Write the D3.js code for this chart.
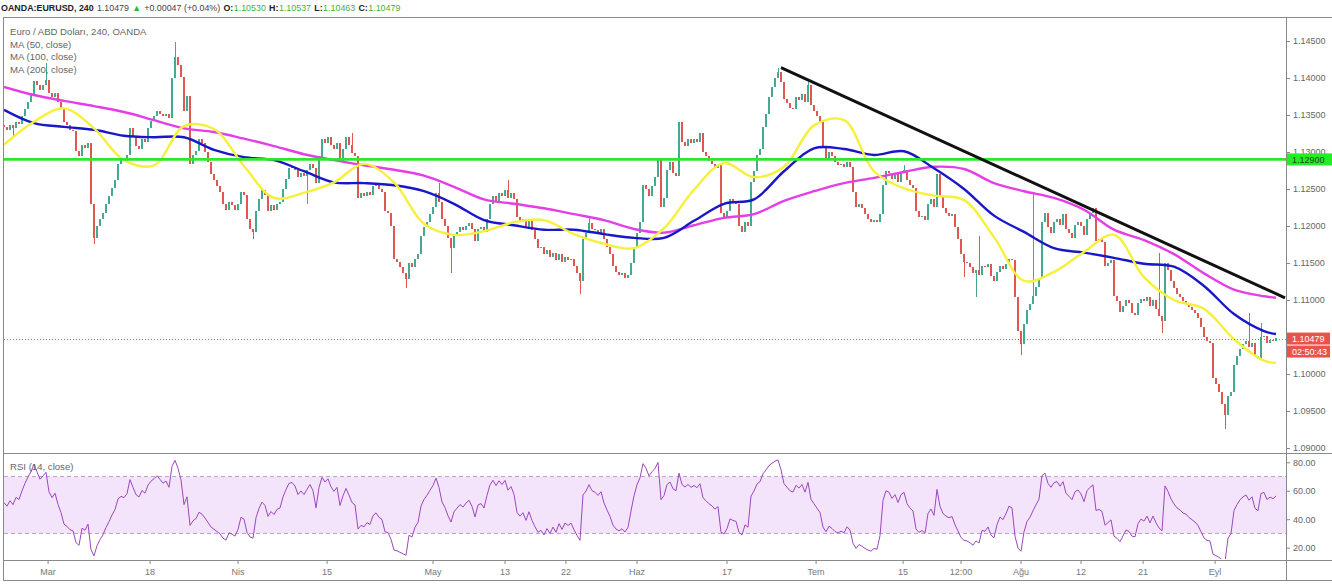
<!DOCTYPE html>
<html><head><meta charset="utf-8">
<script src="https://cdn.jsdelivr.net/npm/d3@7"></script>
<style>body{margin:0;background:#fff;overflow:hidden}svg{display:block;font-family:'Liberation Sans',Arial,sans-serif}</style>
</head><body><svg id="c" width="1332" height="587"></svg>
<script>
// ---- DATA (prices stored as pips above 1.0900) ----
const BASE = 1.09;
const firstOpen = 436;
const closes = [
434,430,436,432,440,438,448,458,468,478,
496,490,484,490,497,480,474,480,468,458,
440,436,430,428,402,394,410,406,412,330,
284,300,310,318,330,340,352,362,384,390,
388,396,432,420,408,404,418,414,432,442,
448,456,452,448,452,446,500,528,518,502,
456,476,384,396,402,418,412,400,386,370,
362,354,346,330,322,332,328,322,330,346,
342,310,296,292,320,336,348,342,320,328,
322,330,332,350,364,378,380,376,366,372,
368,376,384,378,358,392,418,412,420,410,
404,412,386,404,420,410,398,394,338,344,
340,346,342,354,358,350,346,320,318,300,
256,252,244,236,228,250,244,256,262,286,
298,306,316,326,344,332,310,300,284,270,
286,292,298,294,300,304,296,280,296,298,
292,310,330,340,334,344,340,348,338,344,
336,312,306,310,298,308,294,282,270,272,
262,268,258,264,254,262,252,258,254,256,
246,236,226,282,290,304,296,294,290,296,
282,272,262,246,238,234,236,230,234,250,
270,290,306,356,350,340,354,366,392,326,
338,376,386,372,368,440,414,408,418,412,
418,414,426,400,394,388,384,378,382,318,
312,320,336,332,330,300,292,306,300,360,
374,396,404,434,452,474,488,500,508,494,
472,466,460,458,474,470,478,468,490,464,
456,448,440,406,392,400,394,386,382,384,
380,386,380,346,326,330,324,316,310,306,
308,306,316,356,374,372,364,370,360,372,
376,362,356,352,320,312,314,308,330,336,
326,370,340,324,318,314,316,298,282,262,
252,250,244,236,240,234,246,244,248,232,
226,238,246,242,248,256,254,204,158,140,
168,186,194,206,218,230,306,318,298,290,
306,310,302,316,296,290,284,302,306,300,
288,310,318,324,280,282,278,246,250,254,
206,198,184,192,200,196,182,180,196,202,
198,204,192,200,188,178,172,250,240,226,
216,208,204,198,196,190,186,182,176,164,
150,144,142,94,86,76,60,44,70,76,
112,124,134,140,144,136,142,124,120,150,
152,142,146,144,148
];
// notable wicks: [candle, high, low]
const wicks = [[3,null,419],[14,520,null],[30,null,276],[57,548,null],[83,null,283],[101,null,330],[116,426,null],
[134,null,216],[145,358,null],[149,null,236],[168,362,null],[192,null,208],[195,312,null],[258,514,null],[268,494,null],
[300,382,null],[320,null,231],[324,null,204],[325,286,null],[339,null,126],[343,346,null],[385,264,null],[386,null,155],
[407,null,26],[415,182,null],[419,169,null]];
// moving averages sampled every 10th candle (+ last candle)
const ma50 = [410,441,459,432,389,382,435,431,381,338,345,359,384,359,303,288,293,305,308,289,276,270,297,349,385,366,380,436,443,374,351,341,335,285,226,238,265,288,231,200,188,147,118,115];
const ma100 = [457,439,434,430,422,420,420,403,393,389,374,359,358,355,347,330,308,301,295,295,289,284,284,307,330,336,374,405,404,396,401,378,350,314,292,270,264,257,249,245,219,181,158,154];
const ma200 = [488,477,469,462,454,443,432,427,418,408,397,389,382,376,368,353,336,330,324,316,308,296,291,301,311,316,334,347,358,365,373,380,377,358,347,338,322,295,281,262,236,214,205,203];
const trend = [[259,514],[427,203]];
const levelPrice = 1.129;
const lastPrice = 1.10479;
const countdown = "02:50:43";
const priceTicks = [1.09,1.095,1.10,1.105,1.11,1.115,1.12,1.125,1.13,1.135,1.14,1.145];
const rsiTicks = [20,40,60,80];
const timeLabels = ["Mar","18","Nis","15","May","13","22","Haz","17","Tem","15","12:00","Ağu","12","21","Eyl"];
const timeIdx = [14.7,48.7,78,107.7,143,167,187.3,211,241,270.7,299.7,319,339,359,379.7,403.7];
const headerParts = [["OANDA:EURUSD, 240",'b','#222'],["1.10479",'n','#444'],["▲",'n','#2eb82e'],["+0.00047 (+0.04%)",'n','#444'],
["O:",'b','#222'],["1.10530",'n','#3cb43c'],["H:",'b','#222'],["1.10537",'n','#3cb43c'],["L:",'b','#222'],["1.10463",'n','#3cb43c'],["C:",'b','#222'],["1.10479",'n','#3cb43c']];

// ---- DRAW ----
const FONT = "'Liberation Sans',Arial,sans-serif";
const svg = d3.select('#c');
const N = closes.length;
const P = p => BASE + p/10000;
const x = d3.scaleLinear().domain([0,N-1]).range([4,1276]);
const y = d3.scaleLinear().domain([1.09,1.145]).range([448,41]);
const yr = d3.scaleLinear().domain([20,80]).range([547.7,462.3]);
const AX = 1286;

const defs = svg.append('defs');
defs.append('clipPath').attr('id','mainclip').append('rect').attr('x',4).attr('y',18).attr('width',AX-4).attr('height',434);
defs.append('clipPath').attr('id','rsiclip').append('rect').attr('x',4).attr('y',454).attr('width',AX-4).attr('height',105);

// header: separate texts placed one after another
let hx = 1;
headerParts.forEach((s,k)=>{
  const t = svg.append('text').attr('x',hx).attr('y',11).attr('font-size',8.9).attr('font-family',FONT)
    .attr('font-weight',s[1]==='b'?'bold':'normal').attr('fill',s[2]).text(s[0]);
  const gap = (s[1]==='b' && k>0) ? 0.5 : 3.2;
  hx += t.node().getComputedTextLength() + gap;
});

// frame
const fr = svg.append('g').attr('stroke','#8a8a8a').attr('stroke-width',1).attr('shape-rendering','crispEdges');
fr.append('line').attr('x1',3).attr('x2',1332).attr('y1',17.5).attr('y2',17.5);
fr.append('line').attr('x1',3).attr('x2',1332).attr('y1',453.5).attr('y2',453.5);
fr.append('line').attr('x1',3).attr('x2',1332).attr('y1',560.5).attr('y2',560.5);
fr.append('line').attr('x1',3).attr('x2',1332).attr('y1',580.5).attr('y2',580.5);
fr.append('line').attr('x1',3.5).attr('x2',3.5).attr('y1',17).attr('y2',581);
fr.append('line').attr('x1',AX+0.5).attr('x2',AX+0.5).attr('y1',17).attr('y2',581);

// main panel
const mg = svg.append('g').attr('clip-path','url(#mainclip)');
const cd = closes.map((c,i)=>{const o = i? closes[i-1] : firstOpen; return {i,o,c,h:Math.max(o,c),l:Math.min(o,c)};});
wicks.forEach(([i,h,l])=>{ if(h!=null) cd[i].h=h; if(l!=null) cd[i].l=l; });
const up = '#43a990', dn = '#e0574f';
mg.append('g').attr('shape-rendering','crispEdges').selectAll('rect').data(cd).join('rect')
 .attr('x',d=>x(d.i)-0.5).attr('width',1)
 .attr('y',d=>y(P(d.h))).attr('height',d=>Math.max(1,y(P(d.l))-y(P(d.h))))
 .attr('fill',d=>d.c>=d.o?up:dn);
mg.append('g').attr('shape-rendering','crispEdges').selectAll('rect').data(cd).join('rect')
 .attr('x',d=>x(d.i)-1).attr('width',2)
 .attr('y',d=>y(P(Math.max(d.o,d.c)))).attr('height',d=>Math.max(1,Math.abs(y(P(d.o))-y(P(d.c)))))
 .attr('fill',d=>d.c>=d.o?up:dn);

const maLine = d3.line().x(d=>x(d[0])).y(d=>y(P(d[1]))).curve(d3.curveCatmullRom.alpha(0.5));
const maPts = arr => arr.map((v,k)=>[Math.min(k*10,N-1),v]);
mg.append('path').attr('d',maLine(maPts(ma200))).attr('fill','none').attr('stroke','#e63ee6').attr('stroke-width',2.4);
mg.append('path').attr('d',maLine(maPts(ma100))).attr('fill','none').attr('stroke','#1818c8').attr('stroke-width',2.4);
mg.append('path').attr('d',maLine(maPts(ma50))).attr('fill','none').attr('stroke','#f6f03a').attr('stroke-width',2.4);

// level line
mg.append('line').attr('x1',4).attr('x2',AX).attr('y1',y(levelPrice)).attr('y2',y(levelPrice)).attr('stroke','#2ee62e').attr('stroke-width',2.6);
// last price dotted
mg.append('line').attr('x1',4).attr('x2',AX).attr('y1',Math.round(y(lastPrice))+0.5).attr('y2',Math.round(y(lastPrice))+0.5)
 .attr('stroke','#e06060').attr('stroke-width',1).attr('stroke-dasharray','1,2');
// trend line
mg.append('line').attr('x1',x(trend[0][0])).attr('y1',y(P(trend[0][1]))).attr('x2',x(trend[1][0])).attr('y2',y(P(trend[1][1])))
 .attr('stroke','#111').attr('stroke-width',3);

// legend
const lg = svg.append('g').attr('font-size',9.6).attr('fill','#666').attr('font-family',FONT);
["Euro / ABD Doları, 240, OANDA","MA (50, close)","MA (100, close)","MA (200, close)"].forEach((t,k)=>
  lg.append('text').attr('x',10).attr('y',35+k*12.5).text(t));

// price axis
const pa = svg.append('g').attr('transform',`translate(${AX},0)`)
 .call(d3.axisRight(y).tickValues(priceTicks).tickFormat(d3.format('.5f')).tickSize(4).tickPadding(3));
pa.select('.domain').remove();
pa.selectAll('line').attr('stroke','#888');
pa.selectAll('text').attr('font-size',9).attr('fill','#666').attr('font-family',FONT);

// level label
const ly = y(levelPrice);
svg.append('rect').attr('x',AX+1).attr('y',ly-6).attr('width',1332-AX-1).attr('height',12).attr('fill','#22ee22');
svg.append('text').attr('x',AX+6).attr('y',ly+3.5).attr('font-size',9).attr('fill','#224422').text(d3.format('.5f')(levelPrice));
// last price labels
const lyy = y(lastPrice);
svg.append('rect').attr('x',AX+1).attr('y',lyy-6).attr('width',1330-AX-1).attr('height',12).attr('fill','#e8534b');
svg.append('text').attr('x',AX+6).attr('y',lyy+3.5).attr('font-size',9).attr('fill','#fff').text(d3.format('.5f')(lastPrice));
svg.append('rect').attr('x',AX+1).attr('y',lyy+7).attr('width',1330-AX-1).attr('height',12).attr('fill','#e8534b');
svg.append('text').attr('x',AX+6).attr('y',lyy+16.5).attr('font-size',9).attr('fill','#fff').text(countdown);

// RSI panel
const rg = svg.append('g').attr('clip-path','url(#rsiclip)');
rg.append('rect').attr('x',4).attr('width',AX-4).attr('y',yr(70)).attr('height',yr(30)-yr(70)).attr('fill','#f3e4fb');
[70,30].forEach(v=>rg.append('line').attr('x1',4).attr('x2',AX).attr('y1',yr(v)).attr('y2',yr(v))
 .attr('stroke','#b6a6c6').attr('stroke-dasharray','4,3'));
// Wilder RSI on the closes, averages seeded from the opening stretch of the data
function rsi(vals,n){
 let ag=0,al=0;
 for(let i=1;i<=2*n;i++){const d=vals[i]-vals[i-1];ag+=Math.max(d,0)/(2*n);al+=Math.max(-d,0)/(2*n);}
 const out=[100-100/(1+ag/al)];
 for(let i=1;i<vals.length;i++){
  const d=vals[i]-vals[i-1];
  ag=(ag*(n-1)+Math.max(d,0))/n; al=(al*(n-1)+Math.max(-d,0))/n;
  out.push(al===0?100:100-100/(1+ag/al)); }
 return out;}
const rv = rsi(closes,10);
rg.append('path').attr('d',d3.line().x((d,i)=>x(i)).y(d=>yr(d))(rv)).attr('fill','none').attr('stroke','#9b48bd').attr('stroke-width',1);
svg.append('text').attr('x',10).attr('y',470).attr('font-size',9.6).attr('fill','#666').attr('font-family',FONT).text('RSI (14, close)');
const ra = svg.append('g').attr('transform',`translate(${AX},0)`)
 .call(d3.axisRight(yr).tickValues(rsiTicks).tickFormat(d3.format('.2f')).tickSize(4).tickPadding(3));
ra.select('.domain').remove();
ra.selectAll('line').attr('stroke','#888');
ra.selectAll('text').attr('font-size',9).attr('fill','#666').attr('font-family',FONT);

// time axis
const ta = svg.append('g').attr('transform','translate(0,561)');
ta.selectAll('line').data(timeIdx).join('line').attr('x1',d=>x(d)).attr('x2',d=>x(d)).attr('y1',0).attr('y2',3).attr('stroke','#888');
ta.selectAll('text').data(timeLabels).join('text').attr('x',(d,k)=>x(timeIdx[k])).attr('y',14).attr('text-anchor','middle')
 .attr('font-size',9).attr('fill','#777').attr('font-family',FONT).text(d=>d);
</script></body></html>
